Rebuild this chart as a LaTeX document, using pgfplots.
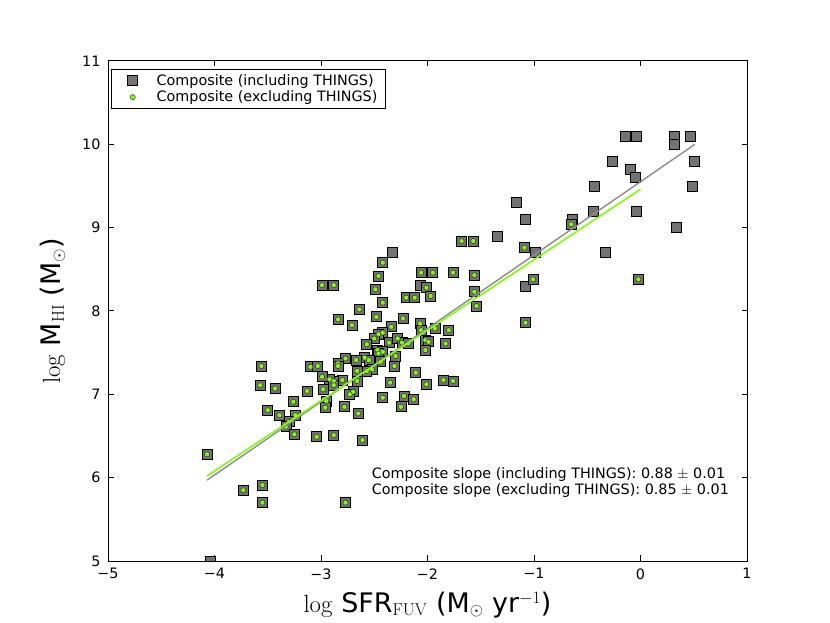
\documentclass[border=0pt]{standalone}
\usepackage[no-math]{fontspec}
\setmainfont{DejaVu Sans}
\usepackage{pgfplots}
\usepackage{pgfplotstable}
\pgfplotsset{compat=1.18}
\definecolor{chart}{HTML}{7FFF00}
\definecolor{fitgray}{HTML}{8C8C8C}
\pgfplotstableread{
x y
-0.14 10.10
-0.04 10.10
0.32 10.10
0.47 10.10
0.32 10.00
-0.26 9.80
0.51 9.80
-0.10 9.70
-0.05 9.60
-0.43 9.50
0.49 9.50
-0.44 9.20
-0.04 9.20
-0.64 9.10
0.34 9.00
-0.33 8.70
-1.08 9.10
-1.17 9.30
-1.34 8.90
-0.99 8.70
-2.33 8.70
-1.08 8.30
-2.07 8.31
-4.04 5.00
}\things
\pgfplotstableread{
x y
-0.65 9.04
-0.02 8.38
-3.56 7.34
-3.57 7.11
-3.43 7.07
-3.10 7.33
-3.03 7.34
-3.13 7.04
-3.26 6.91
-3.50 6.81
-3.39 6.75
-3.24 6.75
-3.30 6.67
-3.33 6.61
-3.25 6.52
-3.04 6.49
-2.64 8.02
-2.42 8.10
-2.84 7.90
-2.71 7.83
-2.48 7.93
-2.23 7.91
-2.34 7.81
-2.07 7.85
-2.06 7.77
-2.42 7.74
-2.46 7.72
-2.50 7.67
-2.57 7.60
-2.36 7.62
-2.28 7.67
-2.24 7.62
-2.18 7.61
-2.02 7.65
-1.99 7.63
-2.02 7.53
-2.47 7.53
-2.42 7.51
-2.46 7.49
-2.30 7.46
-2.59 7.44
-2.55 7.41
-2.67 7.41
-2.77 7.43
-2.44 7.39
-2.84 7.37
-2.84 7.34
-2.31 7.34
-2.52 7.30
-2.57 7.28
-2.66 7.28
-2.11 7.26
-2.66 7.16
-2.80 7.17
-2.88 7.16
-2.92 7.18
-2.99 7.21
-2.88 7.11
-2.35 7.14
-2.01 7.12
-2.98 7.06
-2.70 7.03
-2.73 7.00
-2.22 6.98
-2.13 6.94
-2.42 6.96
-2.95 6.92
-2.96 6.84
-2.78 6.85
-2.25 6.85
-2.42 8.58
-2.46 8.42
-2.99 8.31
-2.88 8.31
-2.49 8.26
-1.68 8.84
-1.57 8.84
-1.09 8.76
-2.06 8.46
-1.95 8.46
-1.76 8.46
-1.56 8.43
-1.01 8.38
-2.01 8.28
-1.97 8.18
-2.20 8.16
-2.12 8.16
-1.56 8.23
-1.54 8.06
-1.08 7.86
-1.93 7.79
-1.80 7.77
-1.83 7.61
-1.85 7.17
-1.76 7.16
-2.65 6.77
-2.88 6.51
-2.61 6.45
-4.07 6.28
-3.73 5.85
-3.55 5.91
-3.55 5.70
-2.77 5.70
}\green
\begin{document}
\begin{tikzpicture}
\useasboundingbox (0,0) rectangle (830bp,623bp);
\begin{axis}[
  at={(108bp,62bp)}, anchor=south west,
  width=639bp, height=500bp, scale only axis,
  xmin=-5, xmax=1, ymin=5, ymax=11,
  xtick={-5,-4,-3,-2,-1,0,1},
  xticklabels={−5,−4,−3,−2,−1,0,1},
  ytick={5,6,7,8,9,10,11},
  yticklabels={5,6,7,8,9,10,11},
  tick align=inside, tick pos=both,
  major tick length=5.5bp,
  axis line style={line width=1bp},
  every tick/.style={black, line width=1bp},
  ticklabel style={font=\fontsize{14.4}{17}\selectfont},
  xticklabel style={yshift=-4bp},
  yticklabel style={xshift=-4bp},
  clip marker paths=true,
  xlabel={$\log$ SFR$_{\mathrm{FUV}}$ (M$_{\odot}$ yr$^{-1}$)},
  ylabel={$\log$ M$_{\mathrm{HI}}$ (M$_{\odot}$)},
  label style={font=\fontsize{27}{31}\selectfont},
  xlabel style={at={(axis description cs:0.5,-0.102)}, anchor=base},
  ylabel style={at={(axis description cs:-0.075,0.5)}, anchor=base},
  legend cell align=left,
  legend image code/.code={\path[draw=none,fill=none] (0bp,-5bp) rectangle (26bp,5bp); \draw[#1] plot coordinates {(13bp,0bp)};},
  legend style={at={(rel axis cs:0.005,0.984)}, anchor=north west, draw=black, line width=1bp,
    font=\fontsize{14.4}{17}\selectfont, inner xsep=8bp, inner ysep=5bp,
    row sep=4bp, column sep=11bp, nodes={inner sep=0pt}},
]
\addplot[only marks, mark=square*, mark size=5bp, mark options={fill=black!55, draw=black, line width=0.7bp}] table {\things};
\addlegendentry{Composite (including THINGS)}
\addplot[only marks, mark=square*, mark size=5bp, mark options={fill=black!55, draw=black, line width=0.7bp}, forget plot] table {\green};
\addplot[only marks, mark=*, mark size=2.6bp, mark options={fill=chart, draw=black!80, line width=0.5bp}] table {\green};
\addlegendentry{Composite (excluding THINGS)}
\addplot[fitgray, line width=1.4bp, forget plot] coordinates {(-4.07,5.97) (0.51,10.00)};
\addplot[chart, line width=1.6bp, forget plot] coordinates {(-4.07,6.02) (0.00,9.46)};
\node[anchor=base west, font=\fontsize{14.4}{17}\selectfont] at (axis cs:-2.555,5.99) {Composite slope (including THINGS): 0.88 $\pm$ 0.01};
\node[anchor=base west, font=\fontsize{14.4}{17}\selectfont] at (axis cs:-2.555,5.80) {Composite slope (excluding THINGS): 0.85 $\pm$ 0.01};
\end{axis}
\end{tikzpicture}
\end{document}
